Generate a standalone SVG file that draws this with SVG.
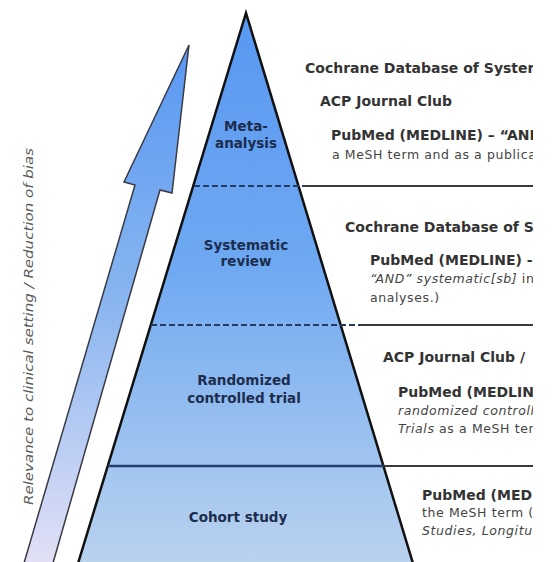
<svg xmlns="http://www.w3.org/2000/svg" width="558" height="562" viewBox="0 0 558 562">
<style>
.lbl{font-family:"DejaVu Sans",Verdana,sans-serif;font-weight:bold;font-size:13.5px;fill:#1c2d4d;text-anchor:middle}
.hd{font-family:"DejaVu Sans",Verdana,sans-serif;font-weight:bold;font-size:14px;fill:#333}
.tx{font-family:"DejaVu Sans",Verdana,sans-serif;font-size:12.5px;letter-spacing:0.6px;fill:#444}
.it{font-style:italic}
.sep{stroke:#3a3a3a;stroke-width:2;fill:none}
.dash{stroke:#243a60;stroke-width:1.8;stroke-dasharray:6 3;fill:none}
</style>
<defs>
<linearGradient id="pg" gradientUnits="userSpaceOnUse" x1="0" y1="13" x2="0" y2="562">
<stop offset="0" stop-color="#5898f2"/>
<stop offset="0.45" stop-color="#6ea8f2"/>
<stop offset="0.72" stop-color="#93bdf0"/>
<stop offset="1" stop-color="#b9d2ee"/>
</linearGradient>
<linearGradient id="ag" gradientUnits="userSpaceOnUse" x1="0" y1="45" x2="0" y2="562">
<stop offset="0" stop-color="#5898f2"/>
<stop offset="0.5" stop-color="#8ab6f0"/>
<stop offset="1" stop-color="#e2e0f6"/>
</linearGradient>
<clipPath id="rc"><rect x="0" y="0" width="533" height="562"/></clipPath>
</defs>
<rect width="558" height="562" fill="#ffffff"/>

<g id="arrow">
<polygon points="189,45 172,193 160,190 51,570 22,570 135,185 124,182" fill="url(#ag)" stroke="#3a3a44" stroke-width="1.5" stroke-linejoin="miter"/>
<text transform="translate(33,505) rotate(-90)" font-family="DejaVu Sans,Verdana,sans-serif" font-style="italic" font-size="12.5" fill="#5a5a5a" textLength="357" lengthAdjust="spacingAndGlyphs">Relevance to clinical setting / Reduction of bias</text>
</g>

<g id="pyramid">
<polygon points="246,13 415,570 76,570" fill="url(#pg)" stroke="#111" stroke-width="2.5" stroke-linejoin="miter"/>
</g>

<g id="connectors" clip-path="url(#rc)">
<line class="dash" x1="194" y1="186" x2="305" y2="186"/>
<line class="sep" x1="305" y1="186" x2="533" y2="186"/>
<line class="dash" x1="151" y1="325" x2="360" y2="325"/>
<line class="sep" x1="360" y1="325" x2="533" y2="325"/>
<line x1="108" y1="466" x2="384" y2="466" stroke="#24406a" stroke-width="2.5"/>
<line class="sep" x1="384" y1="466" x2="533" y2="466"/>
</g>

<g id="meta-analysis">
<text class="lbl" x="246" y="131">Meta-</text>
<text class="lbl" x="246" y="148">analysis</text>
</g>
<g id="systematic-review">
<text class="lbl" x="246" y="250">Systematic</text>
<text class="lbl" x="246" y="266">review</text>
</g>
<g id="rct">
<text class="lbl" x="244" y="385">Randomized</text>
<text class="lbl" x="244" y="403">controlled trial</text>
</g>
<g id="cohort">
<text class="lbl" x="238" y="522">Cohort study</text>
</g>

<g id="sources" clip-path="url(#rc)">
<text class="hd" x="305" y="73">Cochrane Database of System</text>
<text class="hd" x="320" y="106">ACP Journal Club</text>
<text class="hd" x="331" y="140">PubMed (MEDLINE) – “AND</text>
<text class="tx" x="332" y="159">a MeSH term and as a publica</text>

<text class="hd" x="345" y="232">Cochrane Database of S</text>
<text class="hd" x="370" y="265">PubMed (MEDLINE) -</text>
<text class="tx" x="370" y="283"><tspan class="it">“AND” systematic[sb]</tspan> in</text>
<text class="tx" x="370" y="302">analyses.)</text>

<text class="hd" x="383" y="362">ACP Journal Club /</text>
<text class="hd" x="398" y="397">PubMed (MEDLINE</text>
<text class="tx it" x="398" y="415">randomized controll</text>
<text class="tx" x="398" y="433"><tspan class="it">Trials</tspan> as a MeSH ter</text>

<text class="hd" x="422" y="500">PubMed (MED</text>
<text class="tx" x="422" y="517">the MeSH term (</text>
<text class="tx it" x="422" y="535">Studies, Longitu</text>
</g>
</svg>
